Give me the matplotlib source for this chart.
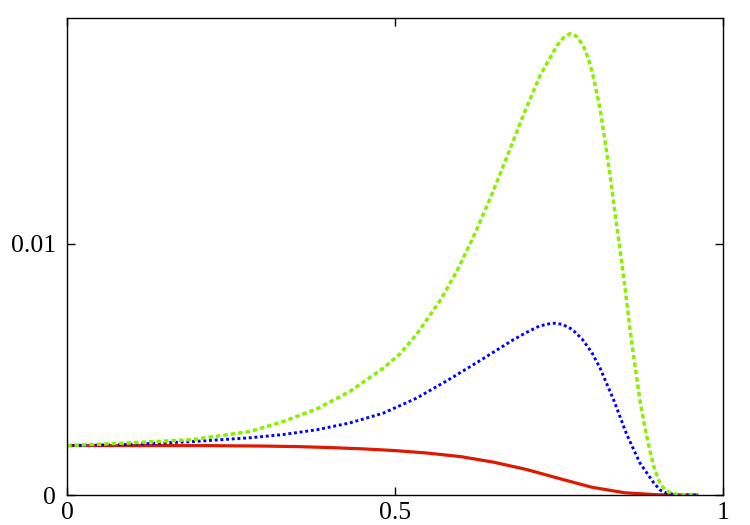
import matplotlib
matplotlib.use('agg')
import matplotlib.pyplot as plt

# values
green_x = [0.0, 0.0915, 0.192, 0.279, 0.330, 0.381, 0.431, 0.482, 0.508, 0.533, 0.569,
           0.594, 0.619, 0.645, 0.670, 0.696, 0.721, 0.747, 0.757, 0.767, 0.777, 0.787,
           0.795, 0.802, 0.8125, 0.820, 0.828, 0.835, 0.843, 0.851, 0.858, 0.866, 0.873,
           0.881, 0.889, 0.896, 0.904, 0.912, 0.924, 0.942, 0.960]
green_y = [0.00197, 0.00207, 0.00221, 0.00253, 0.00293, 0.00343, 0.00412, 0.00505, 0.00563,
           0.00640, 0.00775, 0.00890, 0.01025, 0.01180, 0.01343, 0.01515, 0.01670, 0.01790,
           0.01822, 0.01838, 0.01827, 0.01790, 0.01737, 0.01670, 0.01540, 0.01412, 0.01270,
           0.01132, 0.00978, 0.00818, 0.00665, 0.00512, 0.00384, 0.00268, 0.00172, 0.00100,
           0.00047, 0.00019, 0.00005, 0.00001, 0.0]

blue_x = [0.0, 0.0915, 0.192, 0.279, 0.330, 0.381, 0.431, 0.482, 0.533, 0.581, 0.630,
          0.680, 0.700, 0.720, 0.740, 0.755, 0.770, 0.785, 0.800, 0.8125, 0.833, 0.853,
          0.873, 0.894, 0.904, 0.915, 0.934, 0.960]
blue_y = [0.00197, 0.00201, 0.00213, 0.00228, 0.00241, 0.00260, 0.00287, 0.00326, 0.00386,
          0.00458, 0.00536, 0.00618, 0.00647, 0.00673, 0.00685, 0.00680, 0.00660, 0.00622,
          0.00568, 0.00506, 0.00381, 0.00243, 0.00129, 0.00050, 0.00020, 0.00006, 0.00001, 0.0]

red_x = [0.0, 0.1, 0.2, 0.3, 0.35, 0.4, 0.45, 0.5, 0.55, 0.6, 0.65, 0.7, 0.75, 0.8,
         0.85, 0.9, 0.96]
red_y = [0.00197, 0.00197, 0.00197, 0.00195, 0.00193, 0.00189, 0.00184, 0.00177, 0.00167,
         0.00153, 0.00131, 0.00102, 0.00066, 0.00031, 0.00009, 0.00001, 0.0]

xticks = [0, 0.5, 1]
xticklabels = ['0', '0.5', '1']
yticks = [0, 0.01]
yticklabels = ['0', '0.01']

plt.rcParams['font.family'] = ['Liberation Serif', 'DejaVu Serif']

fig = plt.figure(figsize=(7.5, 5.25), dpi=100)
ax = fig.add_axes([0.0893, 0.0571, 0.8747, 0.9086])

ax.plot(red_x, red_y, color='#dd1a00', lw=2.3, solid_joinstyle='round')
ax.plot(blue_x, blue_y, color='#0000ff', lw=2.1, linestyle=(0, (1, 0.95)))
ax.plot(green_x, green_y, color='#88f000', lw=2.5, linestyle=(0, (1.3, 0.85)))

ax.set_xlim(0, 1)
ax.set_ylim(0, 0.019)
ax.set_xticks(xticks)
ax.set_xticklabels(xticklabels)
ax.set_yticks(yticks)
ax.set_yticklabels(yticklabels)
ax.tick_params(direction='in', length=6, width=1, labelsize=18.5,
               top=True, right=True)
ax.tick_params(axis='y', pad=8)
ax.tick_params(axis='x', pad=5)
for s in ax.spines.values():
    s.set_linewidth(1.0)

fig.savefig('out.png', dpi=100)
